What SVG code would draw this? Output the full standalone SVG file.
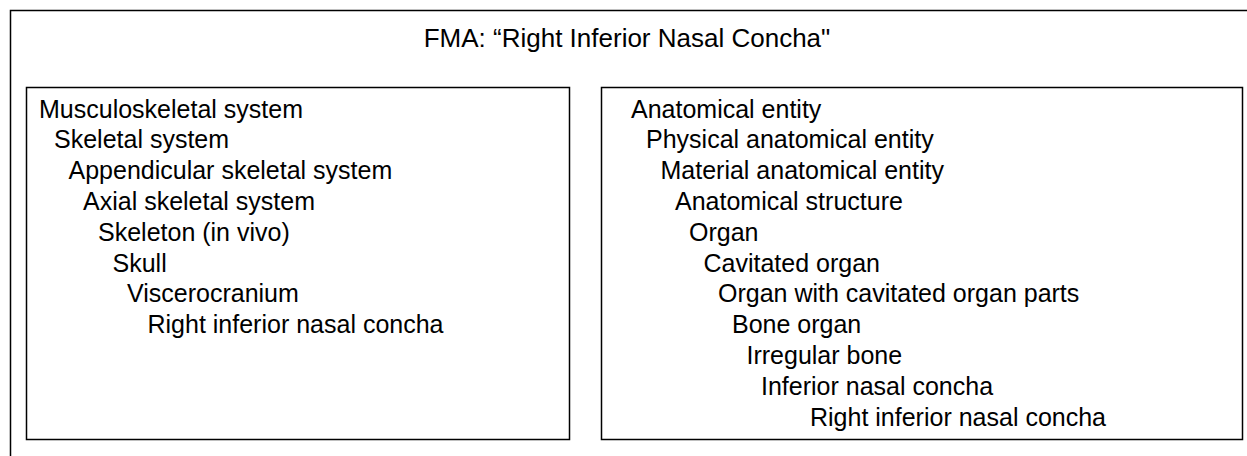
<svg xmlns="http://www.w3.org/2000/svg" width="1247" height="456" viewBox="0 0 1247 456">
<style>
.box{fill:none;stroke:#000;stroke-width:1.5}
.t{font-family:"Liberation Sans",Arial,sans-serif;font-size:25px;fill:#000}
.title{font-family:"Liberation Sans",Arial,sans-serif;font-size:26px;fill:#000;text-anchor:middle}
</style>
<rect width="1247" height="456" fill="#fff"/>
<g id="outer">
<rect class="box" x="10.5" y="10.5" width="1260" height="470"/>
<text class="title" x="627" y="47">FMA: “Right Inferior Nasal Concha"</text>
</g>
<g id="left-box">
<rect class="box" x="26.5" y="87.5" width="543" height="352"/>
<text class="t" x="39" y="117.5">Musculoskeletal system</text>
<text class="t" x="54" y="148.3">Skeletal system</text>
<text class="t" x="68.5" y="179.1">Appendicular skeletal system</text>
<text class="t" x="83" y="209.9">Axial skeletal system</text>
<text class="t" x="98" y="240.7">Skeleton (in vivo)</text>
<text class="t" x="112.5" y="271.5">Skull</text>
<text class="t" x="127" y="302.3">Viscerocranium</text>
<text class="t" x="147.5" y="333.1">Right inferior nasal concha</text>
</g>
<g id="right-box">
<rect class="box" x="601.5" y="87.5" width="641" height="352"/>
<text class="t" x="631" y="117.5">Anatomical entity</text>
<text class="t" x="646" y="148.3">Physical anatomical entity</text>
<text class="t" x="660.5" y="179.1">Material anatomical entity</text>
<text class="t" x="675" y="209.9">Anatomical structure</text>
<text class="t" x="689" y="240.7">Organ</text>
<text class="t" x="703.5" y="271.5">Cavitated organ</text>
<text class="t" x="718" y="302.3">Organ with cavitated organ parts</text>
<text class="t" x="732" y="333.1">Bone organ</text>
<text class="t" x="746.5" y="363.9">Irregular bone</text>
<text class="t" x="761" y="394.7">Inferior nasal concha</text>
<text class="t" x="810" y="425.5">Right inferior nasal concha</text>
</g>
<g id="connectors"></g>
</svg>
